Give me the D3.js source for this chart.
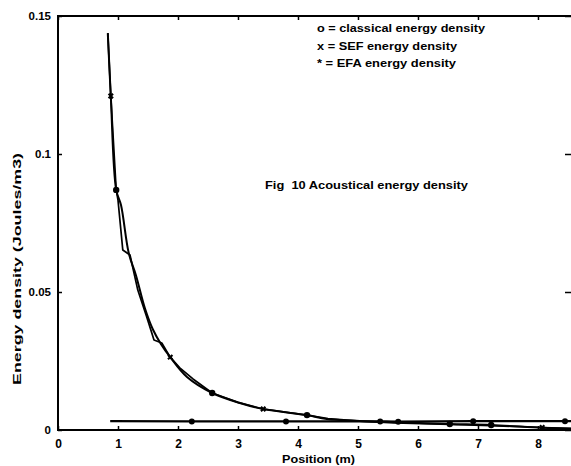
<!DOCTYPE html>
<html>
<head>
<meta charset="utf-8">
<script src="https://cdn.jsdelivr.net/npm/d3@7"></script>
<style>
  html, body { margin: 0; padding: 0; background: #fff; }
  svg { display: block; }
  text { font-family: "Liberation Sans", Arial, sans-serif; font-weight: bold; fill: #000; white-space: pre; }
</style>
</head>
<body>
<svg id="chart" width="571" height="466"></svg>
<script>
// ---- data ----
const xTicks = [0, 1, 2, 3, 4, 5, 6, 7, 8];
const yTicks = [0, 0.05, 0.1, 0.15];

// classical energy density (smooth decaying curve)
const classicalX = [0.83, 0.88, 0.97, 1.05, 1.18, 1.30, 1.45, 1.58, 1.72, 1.87, 2.15, 2.57, 3.03, 3.42, 4.15, 4.48, 5.03, 5.70, 6.53, 7.22, 8.07, 8.57];
const classicalY = [0.1438, 0.121, 0.087, 0.0815, 0.0640, 0.0560, 0.0440, 0.0365, 0.0310, 0.0264, 0.0192, 0.0134, 0.0098, 0.0076, 0.0054, 0.0040, 0.0033, 0.0028, 0.0022, 0.0018, 0.0008, 0.0004];
const classicalMarkX = [0.97, 2.57, 4.15, 6.53, 7.22];
const classicalMarkY = [0.087, 0.0134, 0.0054, 0.0022, 0.0018];

// SEF energy density (wiggly curve)
const sefX = [0.83, 0.88, 0.97, 1.00, 1.08, 1.20, 1.33, 1.48, 1.60, 1.73, 1.87, 2.03, 2.25, 2.57, 3.00, 3.42, 4.15, 4.50, 5.03, 5.60, 6.53, 7.22, 8.07, 8.57];
const sefY = [0.1438, 0.121, 0.087, 0.0833, 0.0652, 0.0634, 0.0507, 0.0409, 0.0326, 0.0315, 0.0264, 0.0225, 0.0185, 0.0134, 0.0100, 0.0076, 0.0054, 0.0041, 0.0032, 0.0026, 0.0020, 0.0016, 0.0009, 0.0006];
const sefMarkX = [0.88, 1.87, 3.42, 8.07];
const sefMarkY = [0.121, 0.0264, 0.0076, 0.0009];

// EFA energy density (flat line)
const efaX = [0.87, 2.23, 3.80, 5.37, 5.67, 6.92, 8.45, 8.57];
const efaY = [0.0032, 0.0031, 0.0031, 0.0031, 0.0030, 0.0032, 0.0032, 0.0032];
const efaMarkX = [2.23, 3.80, 5.37, 5.67, 6.92, 8.45];
const efaMarkY = [0.0031, 0.0031, 0.0031, 0.0030, 0.0032, 0.0032];

const legendLines = ["o = classical energy density", "x = SEF energy density", "* = EFA energy density"];
const annotation = "Fig  10 Acoustical energy density";
const xLabel = "Position (m)";
const yLabel = "Energy density (Joules/m3)";

// ---- layout ----
const svg = d3.select("#chart");
const L = 58, R = 572, T = 16, B = 430;
const x = d3.scaleLinear().domain([0, 8.567]).range([L, R]);
const y = d3.scaleLinear().domain([0, 0.15]).range([B, T]);

// frame
const frame = svg.append("g").attr("stroke", "#000").attr("stroke-width", 2).attr("fill", "none");
frame.append("path").attr("d", `M${L},${T}H${R}M${L},${T - 1}V${B + 1}M${L - 1},${B}H${R}`);

// bottom axis (inward ticks)
const axB = svg.append("g").attr("transform", `translate(0,${B})`)
  .call(d3.axisBottom(x).tickValues(xTicks).tickFormat(d => d).tickSizeInner(-4).tickSizeOuter(0).tickPadding(9));
axB.select(".domain").remove();
axB.selectAll("line").attr("stroke", "#000").attr("stroke-width", 1.5);
axB.selectAll("text").attr("font-size", 12).attr("font-family", "Liberation Sans, Arial, sans-serif").attr("font-weight", "bold");

// top axis ticks
const axT = svg.append("g").attr("transform", `translate(0,${T})`)
  .call(d3.axisTop(x).tickValues(xTicks).tickFormat("").tickSizeInner(-4).tickSizeOuter(0));
axT.select(".domain").remove();
axT.selectAll("line").attr("stroke", "#000").attr("stroke-width", 1.5);

// left axis
const axL = svg.append("g").attr("transform", `translate(${L},0)`)
  .call(d3.axisLeft(y).tickValues(yTicks).tickFormat(d => String(d)).tickSizeInner(-4).tickSizeOuter(0).tickPadding(7));
axL.select(".domain").remove();
axL.selectAll("line").attr("stroke", "#000").attr("stroke-width", 1.5);
axL.selectAll("text").attr("font-size", 11.5).attr("font-family", "Liberation Sans, Arial, sans-serif").attr("font-weight", "bold");

// right axis ticks
const axR = svg.append("g").attr("transform", `translate(${R - 1},0)`)
  .call(d3.axisRight(y).tickValues(yTicks).tickFormat("").tickSizeInner(-6).tickSizeOuter(0));
axR.select(".domain").remove();
axR.selectAll("line").attr("stroke", "#000").attr("stroke-width", 1.5);

// series
function zip(xs, ys) { return xs.map((v, i) => [v, ys[i]]); }
const line = d3.line().x(d => x(d[0])).y(d => y(d[1]));
const smooth = d3.line().x(d => x(d[0])).y(d => y(d[1])).curve(d3.curveCatmullRom.alpha(0.5));

svg.append("path").datum(zip(efaX, efaY)).attr("d", line)
  .attr("fill", "none").attr("stroke", "#000").attr("stroke-width", 2.2);
svg.append("path").datum(zip(classicalX, classicalY)).attr("d", smooth)
  .attr("fill", "none").attr("stroke", "#000").attr("stroke-width", 2);
svg.append("path").datum(zip(sefX, sefY)).attr("d", line)
  .attr("fill", "none").attr("stroke", "#000").attr("stroke-width", 1.7).attr("stroke-linejoin", "round");

// markers
svg.append("g").selectAll("circle").data(zip(classicalMarkX, classicalMarkY)).join("circle")
  .attr("cx", d => x(d[0])).attr("cy", d => y(d[1])).attr("r", 3.2).attr("fill", "#000");
svg.append("g").selectAll("path").data(zip(sefMarkX, sefMarkY)).join("path")
  .attr("d", d3.symbol().type(d3.symbolCross).size(22))
  .attr("transform", d => `translate(${x(d[0])},${y(d[1])}) rotate(45)`).attr("fill", "#000");
svg.append("g").selectAll("circle").data(zip(efaMarkX, efaMarkY)).join("circle")
  .attr("cx", d => x(d[0])).attr("cy", d => y(d[1])).attr("r", 3).attr("fill", "#000");

// legend
const legendWidths = [168, 140, 139];
svg.append("g").selectAll("text").data(legendLines).join("text")
  .attr("x", 317).attr("y", (d, i) => 32 + i * 17.5)
  .attr("font-size", 11)
  .attr("textLength", (d, i) => legendWidths[i]).attr("lengthAdjust", "spacingAndGlyphs")
  .text(d => d);

// annotation
svg.append("text").attr("x", 265).attr("y", 189).attr("font-size", 11.5)
  .attr("textLength", 203).attr("lengthAdjust", "spacingAndGlyphs").text(annotation);

// axis labels
svg.append("text").attr("x", 282).attr("y", 463).attr("font-size", 11.5)
  .attr("textLength", 73).attr("lengthAdjust", "spacingAndGlyphs").text(xLabel);
svg.append("text").attr("transform", "translate(21,385) rotate(-90)")
  .attr("font-size", 11)
  .attr("textLength", 232).attr("lengthAdjust", "spacingAndGlyphs").text(yLabel);
</script>
</body>
</html>
